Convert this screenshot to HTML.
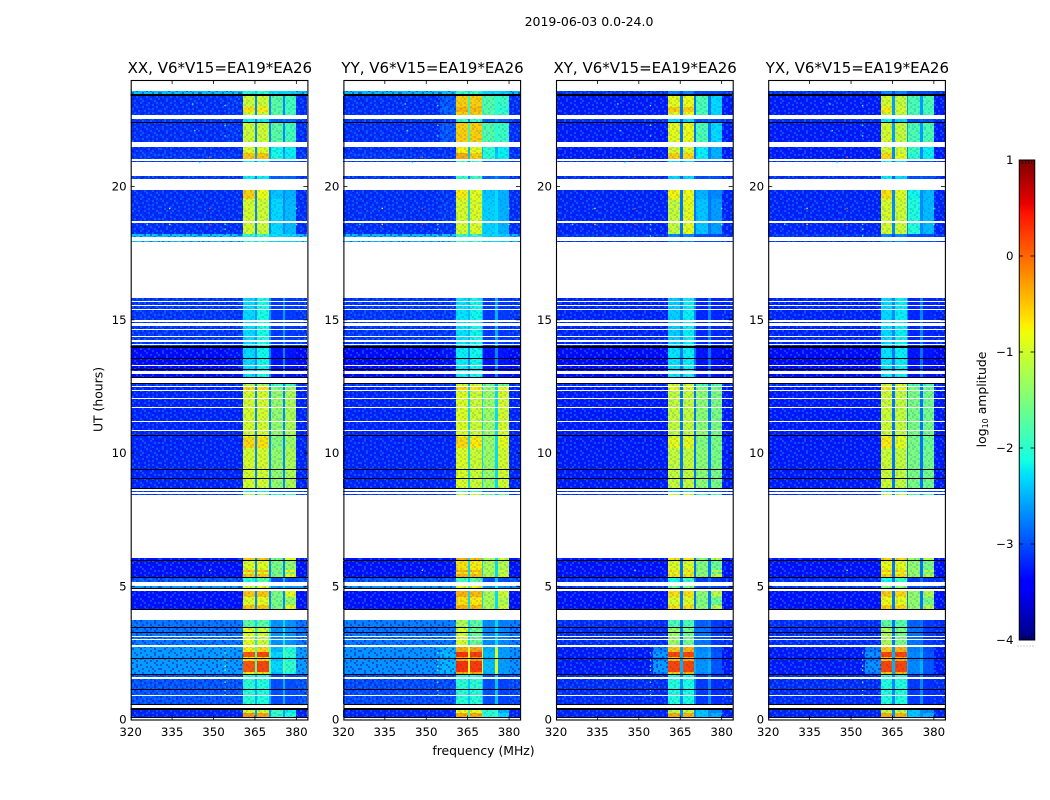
<!DOCTYPE html>
<html>
<head>
<meta charset="utf-8">
<title>2019-06-03 dynamic spectrum</title>
<style>
html,body{margin:0;padding:0;background:#fff;width:1050px;height:800px;overflow:hidden}
svg{display:block}
text{font-family:"DejaVu Sans","Liberation Sans",sans-serif;fill:#000}
</style>
</head>
<body>
<svg id="figure" xmlns="http://www.w3.org/2000/svg" width="1050" height="800" viewBox="0 0 1050 800">
  <defs>
    <pattern id="speckle" patternUnits="userSpaceOnUse" width="40" height="32"></pattern>
  </defs>
  <text x="589" y="26" text-anchor="middle" font-size="12.5">2019-06-03 0.0-24.0</text>
  <text x="0" y="0" text-anchor="middle" font-size="12.4" transform="translate(102.5,399.5) rotate(-90)">UT (hours)</text>
  <text x="483.5" y="755" text-anchor="middle" font-size="12.4">frequency (MHz)</text>
  <text x="0" y="0" text-anchor="middle" font-size="12.4" transform="translate(986,399.5) rotate(-90)">log<tspan font-size="8" dy="2">10</tspan><tspan dy="-2"> amplitude</tspan></text>
</svg>
<script>
/* ---------- chart data ---------- */
const panelTitles = ["XX, V6*V15=EA19*EA26","YY, V6*V15=EA19*EA26","XY, V6*V15=EA19*EA26","YX, V6*V15=EA19*EA26"];
const xTicks = [320,335,350,365,380];
const yTicks = [0,5,10,15,20];
const colorbarTicks = [1,0,-1,-2,-3,-4];
const colorbarTickLabels = ["1","0","\u22121","\u22122","\u22123","\u22124"];
/* frequency columns in MHz; the name says which level column each one reads */
const freqColumns = [
  [320,355,"bg"],[355,360.7,"halo"],[360.7,365,"b1"],[365,365.9,"gap"],[365.9,370.1,"b2"],
  [370.1,370.7,"gap"],[370.7,375,"b3"],[375,376,"gap"],[376,380,"b4"],[380,384,"bg"]
];
const levelColumns = ["bg","halo","b1","gap","b2","b3","b4"];
/* scans: start hour, end hour, level group. Hours not listed have no data (white) */
const scanRows = [
 [0.10,0.255,21],[0.255,0.37,22],[0.59,0.88,20],[0.92,1.12,20],[1.155,1.51,20],[1.605,1.67,20],
 [1.705,1.77,18],[1.77,2.19,19],[2.19,2.27,18],[2.305,2.35,18],[2.35,2.54,19],[2.54,2.72,18],
 [2.80,2.98,17],[3.01,3.08,17],[3.12,3.23,17],[3.27,3.42,17],[3.46,3.73,23],
 [4.15,4.3,14],[4.3,4.6,13],[4.6,4.83,14],[4.94,5.0,16],[5.17,5.32,15],
 [5.355,5.46,14],[5.46,5.55,13],[5.55,5.61,14],[5.61,5.94,13],[5.98,6.05,14],
 [8.43,8.48,12],[8.54,8.58,5],[8.68,9.02,8],[9.06,9.36,8],[9.39,10.2,8],[10.2,10.6,9],[10.6,10.63,8],
 [10.67,10.82,8],[10.86,11.16,8],[11.19,11.68,8],[11.73,12.01,8],[12.06,12.32,8],[12.36,12.49,9],[12.53,12.58,12],
 [12.86,12.98,11],[13.08,13.13,11],[13.17,13.28,11],[13.32,13.53,11],[13.57,13.94,11],
 [14.0,14.07,10],[14.11,14.18,10],[14.23,14.35,10],[14.39,14.6,10],[14.65,14.77,10],[14.88,14.92,10],
 [15.01,15.35,10],[15.39,15.51,10],[15.55,15.66,10],[15.69,15.83,10],
 [17.91,17.94,0],[18.09,18.21,0],[18.21,18.65,6],[18.69,19.55,6],[19.55,19.86,7],
 [20.28,20.38,5],[20.92,20.97,5],[21.02,21.25,4],[21.25,21.47,3],[21.67,22.39,1],[22.44,22.52,5],
 [22.67,22.8,1],[22.8,23.0,2],[23.0,23.4,1],[23.46,23.57,0]
];
/* fully flagged scans that render black: start hour, end hour */
const flaggedRows = [
 [0.07,0.10],[0.37,0.43],[0.555,0.59],[1.12,1.155],[1.67,1.705],[2.27,2.305],[3.23,3.27],[3.42,3.46],
 [4.11,4.15],[4.88,4.94],[5.32,5.355],[5.94,5.98],[8.64,8.68],[9.02,9.06],[9.36,9.39],[10.63,10.67],
 [12.58,12.62],[12.82,12.86],[13.13,13.17],[13.53,13.57],[13.94,14.0],[22.39,22.44],[23.40,23.46]
];
/* log10 amplitude per level group: bg, halo, b1, gap, b2, b3, b4 */
const levelsXX = [
 [-2.4,-2.4,-2.0,-2.35,-1.95,-2.25,-2.3],[-3.15,-3.1,-1.0,-2.7,-1.0,-1.7,-1.85],[-3.15,-3.1,-0.65,-2.7,-0.7,-1.7,-1.85],
 [-3.15,-3.15,-0.9,-2.7,-0.9,-2.15,-2.2],[-3.1,-3.1,-0.5,-2.6,-0.5,-2.1,-2.2],[-3.1,-3.1,-2.2,-2.8,-2.2,-2.9,-2.9],
 [-3.15,-3.15,-0.95,-2.7,-1.0,-2.3,-2.45],[-3.15,-3.15,-0.55,-2.7,-0.8,-2.4,-2.5],[-3.2,-3.2,-0.95,-2.7,-0.95,-1.35,-1.2],
 [-3.2,-3.2,-0.6,-2.7,-0.65,-1.45,-1.3],[-3.1,-3.1,-2.3,-2.6,-2.1,-3.1,-3.1],[-3.35,-3.3,-2.3,-2.7,-2.15,-3.3,-3.3],
 [-3.1,-3.1,-1.2,-2.7,-1.3,-1.9,-1.9],[-3.3,-3.3,-0.9,-2.7,-0.85,-1.5,-1.35],[-3.3,-3.3,-0.5,-2.7,-0.5,-1.5,-0.85],
 [-2.95,-2.95,-2.0,-2.4,-1.7,-3.0,-3.0],[-2.6,-2.6,-1.0,-2.3,-0.9,-2.6,-2.6],[-2.8,-2.8,-0.85,-2.2,-1.0,-2.65,-2.65],
 [-2.6,-2.6,-0.7,-1.8,-0.6,-2.45,-2.1],[-2.6,-2.6,0.1,-1.7,0.2,-2.3,-1.95],[-2.95,-2.95,-2.0,-2.5,-2.05,-3.0,-3.0],
 [-3.2,-3.2,-0.25,-2.6,-0.3,-1.95,-2.05],[-3.2,-3.2,-1.0,-2.6,-1.0,-1.9,-2.2],[-2.8,-2.8,-1.7,-2.3,-1.7,-2.65,-2.65]
];
const levelsYY = [
 [-2.45,-2.4,-1.9,-2.3,-1.9,-2.3,-2.35],[-3.15,-2.95,-0.55,-2.0,-0.55,-1.75,-1.9],[-3.15,-2.9,-0.4,-2.0,-0.45,-1.75,-2.0],
 [-3.15,-3.15,-0.75,-2.5,-0.85,-2.0,-2.2],[-3.1,-3.1,-0.35,-2.4,-0.55,-2.0,-2.2],[-3.1,-3.1,-1.9,-2.7,-1.9,-2.9,-2.9],
 [-3.15,-3.1,-0.95,-2.3,-0.9,-2.35,-2.5],[-3.15,-3.1,-0.7,-2.3,-0.85,-2.4,-2.5],[-3.2,-3.2,-0.9,-2.3,-1.0,-1.3,-0.95],
 [-3.2,-3.2,-0.6,-2.3,-0.7,-1.3,-0.85],[-3.1,-3.1,-2.25,-2.5,-2.15,-3.1,-3.1],[-3.35,-3.3,-2.2,-2.7,-2.15,-3.3,-3.3],
 [-3.1,-3.1,-1.0,-2.5,-1.0,-1.6,-1.6],[-3.3,-3.3,-0.65,-2.3,-0.7,-1.2,-1.15],[-3.3,-3.3,-0.4,-2.3,-0.45,-1.2,-1.0],
 [-2.95,-2.95,-1.8,-2.4,-1.7,-3.0,-3.0],[-2.65,-2.65,-0.9,-2.1,-0.8,-2.65,-2.65],[-2.8,-2.8,-0.95,-2.3,-1.6,-2.7,-2.7],
 [-2.65,-2.5,-0.35,-1.0,-0.3,-2.5,-2.6],[-2.65,-2.45,0.3,-0.9,0.25,-2.45,-2.6],[-3.0,-3.0,-2.0,-2.4,-2.0,-3.0,-3.05],
 [-3.2,-3.2,-0.35,-1.9,-0.35,-2.0,-2.3],[-3.2,-3.2,-0.8,-2.0,-0.85,-2.0,-2.5],[-2.75,-2.75,-1.2,-2.3,-1.7,-2.7,-2.75]
];
const levelsXY = [
 [-3.1,-3.1,-2.7,-3.0,-2.7,-3.0,-3.0],[-3.25,-3.25,-0.85,-2.8,-0.8,-1.8,-2.3],[-3.25,-3.25,-0.55,-2.8,-0.55,-1.85,-2.3],
 [-3.25,-3.25,-0.95,-2.8,-0.9,-2.2,-2.5],[-3.25,-3.25,-0.55,-2.8,-0.6,-2.2,-2.5],[-3.15,-3.15,-2.3,-2.9,-2.3,-3.0,-3.0],
 [-3.2,-3.2,-1.05,-2.8,-0.85,-2.4,-2.6],[-3.2,-3.2,-0.75,-2.8,-0.8,-2.5,-2.7],[-3.25,-3.25,-1.05,-2.8,-1.05,-1.4,-1.5],
 [-3.25,-3.25,-0.85,-2.8,-0.85,-1.45,-1.5],[-3.2,-3.2,-2.35,-2.7,-2.2,-3.2,-3.2],[-3.35,-3.35,-2.25,-2.8,-2.2,-3.3,-3.3],
 [-3.15,-3.15,-1.0,-2.7,-1.0,-1.8,-1.8],[-3.3,-3.3,-0.9,-2.8,-0.9,-1.45,-1.6],[-3.3,-3.3,-0.65,-2.8,-0.65,-1.4,-1.1],
 [-3.15,-3.15,-2.1,-2.8,-1.9,-3.1,-3.1],[-3.1,-3.1,-1.6,-2.8,-1.5,-3.0,-3.0],[-3.15,-3.15,-1.3,-2.8,-1.55,-2.8,-3.1],
 [-3.25,-2.75,-0.5,-2.6,-0.4,-2.7,-3.0],[-3.25,-2.6,0.2,-2.5,0.2,-2.65,-2.95],[-3.15,-3.15,-2.05,-2.7,-2.1,-3.1,-3.15],
 [-3.2,-3.2,-0.35,-2.7,-0.4,-2.4,-2.5],[-3.2,-3.2,-1.1,-2.7,-1.1,-2.4,-2.7],[-3.15,-3.15,-1.8,-2.8,-1.8,-2.9,-3.1]
];
const levelsYX = [
 [-3.1,-3.1,-2.7,-3.0,-2.7,-3.0,-3.0],[-3.25,-3.25,-0.95,-2.6,-1.05,-1.8,-1.8],[-3.25,-3.25,-0.7,-2.6,-0.95,-1.8,-1.85],
 [-3.25,-3.25,-0.95,-2.7,-1.0,-1.9,-2.2],[-3.25,-3.25,-0.6,-2.7,-0.85,-2.0,-2.2],[-3.15,-3.15,-2.2,-2.9,-2.3,-3.0,-3.0],
 [-3.2,-3.2,-0.95,-2.7,-1.0,-2.05,-2.45],[-3.2,-3.2,-0.65,-2.7,-0.9,-2.15,-2.45],[-3.25,-3.25,-1.0,-2.8,-1.05,-1.5,-1.55],
 [-3.25,-3.25,-0.7,-2.8,-0.85,-1.5,-1.6],[-3.2,-3.2,-2.3,-2.7,-2.2,-3.2,-3.2],[-3.35,-3.35,-2.25,-2.8,-2.2,-3.3,-3.3],
 [-3.15,-3.15,-1.0,-2.7,-1.0,-1.8,-1.8],[-3.3,-3.3,-0.8,-2.8,-0.85,-1.35,-1.5],[-3.3,-3.3,-0.55,-2.8,-0.6,-1.35,-1.15],
 [-3.15,-3.15,-2.1,-2.8,-1.9,-3.1,-3.1],[-3.1,-3.1,-1.5,-2.8,-1.4,-3.0,-3.0],[-3.15,-3.15,-1.2,-2.8,-1.5,-2.8,-3.1],
 [-3.25,-2.8,-0.5,-2.6,-0.4,-2.75,-3.0],[-3.25,-2.65,0.2,-2.5,0.2,-2.7,-2.95],[-3.15,-3.15,-2.05,-2.7,-2.05,-3.1,-3.15],
 [-3.2,-3.2,-0.35,-2.7,-0.4,-2.4,-2.5],[-3.2,-3.2,-1.1,-2.7,-1.1,-2.4,-2.7],[-3.15,-3.15,-1.7,-2.8,-1.75,-2.9,-3.1]
];
const panelLevels = [levelsXX,levelsYY,levelsXY,levelsYX];
/* isolated RFI spikes: frequency MHz, hour, log10 amplitude */
const rfiSpikes = [
 [354.2,23.04,-1.6],[354.2,22.3,-1.7],[354.2,21.9,-1.9],[354.2,18.58,-1.7],[354.2,18.4,-1.9],[354.2,18.15,-1.9],
 [354.2,2.23,-1.5],[354.2,2.0,-1.4],[354.2,1.85,-1.4],[354.2,2.5,-1.6],[354.2,1.4,-1.6],[354.2,1.1,-1.6],[354.2,0.92,-1.3],
 [348.6,21.1,0.1],[348.6,19.18,0.1],[348.6,18.58,0.2],[334.1,19.18,-0.8],[334.1,18.58,-0.7],[343.2,22.1,-2.0],
 [348.6,5.6,-1.5],[342.4,23.1,-1.9],[345,20.9,-2.0],[326,18.58,-1.9],[380,19.18,-1.8],[380,18.58,-1.4],[382,0.55,-1.3]
];
/* small noise tile for the scans: # brighter, x darker */
const speckleTile = [
 ".#x..#.x#..x.#..x.#.",
 "x..#..x...#.x..#..x#",
 ".x.#x..#x..#..x..#.x",
 "#..x.#...x#.x.#x..#.",
 ".#x...x#..x..#..#x..",
 "x..#.x..#..#x..x..#x",
 "..#.x.#x..x...#.#x..",
 "#x...#..x#..#x...x.#",
 ".x#.x..#...x..#x#..x",
 "..x#..#x.#x.#...x.#.",
 "#...x#..x...x.#x..x#",
 ".x#...x.#.#..x..#x..",
 "x.#x.#..x.x#...#..x.",
 ".#..x..#x...#x.x.#.#",
 "x..#.#x...#x..#.x..x",
 ".#x..x.#.x..#.x.#x.."
];

/* ---------- layout ---------- */
const SVGNS = "http://www.w3.org/2000/svg";
const svg = document.getElementById("figure");
const panelLayoutX = [130.7,343.4,556,768.2];
const plotW = 176.7, plotTop = 80, plotBottom = 719.5;
const freqMin = 320, freqMax = 384, hourMin = 0, hourMax = 24;
const barX = 1019, barW = 15.5, barTop = 160, barBottom = 640;
const barMin = -4, barMax = 1;

function xScale(left, f){ return left + (f - freqMin) / (freqMax - freqMin) * plotW; }
function yScale(h){ return plotBottom - (h - hourMin) / (hourMax - hourMin) * (plotBottom - plotTop); }
function barScale(v){ return barBottom - (v - barMin) / (barMax - barMin) * (barBottom - barTop); }

const jetR = [[0,0],[0.35,0],[0.66,1],[0.89,1],[1,0.5]];
const jetG = [[0,0],[0.125,0],[0.375,1],[0.64,1],[0.91,0],[1,0]];
const jetB = [[0,0.5],[0.11,1],[0.34,1],[0.65,0],[1,0]];
function ramp(stops, t){
  for (let i = 1; i < stops.length; i++) {
    if (t <= stops[i][0]) {
      const a = stops[i-1], b = stops[i];
      return a[1] + (b[1]-a[1]) * (t-a[0]) / (b[0]-a[0]);
    }
  }
  return stops[stops.length-1][1];
}
function jet(v){
  const t = Math.max(0, Math.min(1, (v - barMin) / (barMax - barMin)));
  const c = s => Math.round(255 * ramp(s, t));
  return "rgb(" + c(jetR) + "," + c(jetG) + "," + c(jetB) + ")";
}
function mk(parent, tag, attrs, txt){
  const el = document.createElementNS(SVGNS, tag);
  for (const k in attrs) el.setAttribute(k, attrs[k]);
  if (txt !== undefined) el.textContent = txt;
  parent.appendChild(el);
  return el;
}

/* speckle pattern from the tile */
const pattern = svg.querySelector("#speckle");
speckleTile.forEach((line, r) => {
  [...line].forEach((ch, c) => {
    if (ch === ".") return;
    const dot = mk(pattern, "rect", {x:c*2, y:r*2, width:2, height:2,
      fill: ch === "#" ? "#1090ff" : "#0010d8", "fill-opacity": ch === "#" ? 0.45 : 0.5, "shape-rendering":"crispEdges"});
    
    
  });
});

/* panels */
panelTitles.forEach((title, p) => {
  const left = panelLayoutX[p];
  const levels = panelLevels[p];
  const g = mk(svg, "g", {});
  
  

  mk(g, "rect", {x:left, y:plotTop, width:plotW, height:plotBottom-plotTop, fill:"#fff"});

  scanRows.forEach(row => {
    const y0 = Math.round(yScale(row[1])), y1 = Math.round(yScale(row[0]));
    const h = Math.max(1, y1 - y0);
    const vals = levels[row[2]];
    freqColumns.forEach(col => {
      const v = vals[levelColumns.indexOf(col[2])];
      const x0 = Math.round(xScale(left, col[0])), x1 = Math.round(xScale(left, col[1]));
      const cell = mk(g, "rect", {x:x0, y:y0, width:x1-x0, height:h, fill:jet(v), "shape-rendering":"crispEdges"});
      
      
      const isBackground = col[2] === "bg" || col[2] === "halo";
      if (col[2] !== "gap") {
        const tex = mk(g, "rect", {x:x0, y:y0, width:x1-x0, height:h, fill:"url(#speckle)", opacity: isBackground ? 1 : 0.3, "shape-rendering":"crispEdges"});
        
        
      }
    });
  });

  rfiSpikes.forEach(s => {
    const dot = mk(g, "rect", {x:xScale(left,s[0])-0.7, y:yScale(s[1])-0.7, width:1.4, height:1.4, fill:jet(s[2])});
    
    
  });

  flaggedRows.forEach(r => {
    const y0 = Math.round(yScale(r[1])), y1 = Math.round(yScale(r[0]));
    const line = mk(g, "rect", {x:left, y:y0, width:plotW, height:Math.max(1,y1-y0), fill:"#000", "shape-rendering":"crispEdges"});
    
    
  });

  xTicks.forEach(f => {
    const x = xScale(left, f);
    if (f !== freqMin) {
      const t1 = mk(g, "line", {x1:x, x2:x, y1:plotBottom, y2:plotBottom-4, stroke:"#000", "stroke-width":0.8});
      
      
      const t2 = mk(g, "line", {x1:x, x2:x, y1:plotTop, y2:plotTop+4, stroke:"#000", "stroke-width":0.8});
      
      
    }
    const lab = mk(g, "text", {x:x, y:736, "text-anchor":"middle", "font-size":11.8}, String(f));
    
    
  });

  yTicks.forEach(h => {
    const y = yScale(h);
    if (h !== hourMin) {
      const t1 = mk(g, "line", {x1:left, x2:left+4, y1:y, y2:y, stroke:"#000", "stroke-width":0.8});
      
      
      const t2 = mk(g, "line", {x1:left+plotW, x2:left+plotW-4, y1:y, y2:y, stroke:"#000", "stroke-width":0.8});
      
      
    }
    const lab = mk(g, "text", {x:left-4, y:y+4, "text-anchor":"end", "font-size":11.8}, String(h));
    
    
  });

  const frame = mk(g, "rect", {x:left+0.5, y:plotTop+0.5, width:plotW, height:plotBottom-plotTop, fill:"none", stroke:"#000", "stroke-width":1.1});
  
  

  const ttl = mk(g, "text", {x:left+plotW/2+0.8, y:73, "text-anchor":"middle", "font-size":15}, title);
  
  
});

/* colorbar */
const bar = mk(svg, "g", {});


for (let i = 0; i < 240; i++) {
  const v0 = barMin + (barMax - barMin) * i / 240;
  const v1 = barMin + (barMax - barMin) * (i + 1) / 240;
  const seg = mk(bar, "rect", {x:barX, y:barScale(v1), width:barW, height:barScale(v0)-barScale(v1)+0.5, fill:jet((v0+v1)/2), "shape-rendering":"crispEdges"});
  
  
}
colorbarTicks.forEach((v, i) => {
  const y = barScale(v);
  const t1 = mk(bar, "line", {x1:barX, x2:barX+4, y1:y, y2:y, stroke:"#000", "stroke-width":0.8});
  
  
  const t2 = mk(bar, "line", {x1:barX+barW, x2:barX+barW-4, y1:y, y2:y, stroke:"#000", "stroke-width":0.8});
  
  
  const lab = mk(bar, "text", {x:1013.5, y:y+4, "text-anchor":"end", "font-size":11.8}, colorbarTickLabels[i]);
  
  
});
[1022.5,1025.5,1028.5,1031.5].forEach(x => {
  [[barTop,barTop+4],[barBottom-4,barBottom]].forEach(s => {
    const m = mk(bar, "line", {x1:x, x2:x, y1:s[0], y2:s[1], stroke:"#000", "stroke-width":0.7});
    
    
  });
});
const barFrame = mk(bar, "rect", {x:barX+0.25, y:barTop, width:barW, height:barBottom-barTop, fill:"none", stroke:"#000", "stroke-width":1});


[1017.5,1020.5,1023.5,1026.5,1029.5,1032.5].forEach(x => {
  const d = mk(bar, "rect", {x:x, y:645.5, width:1, height:1, fill:"#999"});
  
  
});
</script>
</body>
</html>
